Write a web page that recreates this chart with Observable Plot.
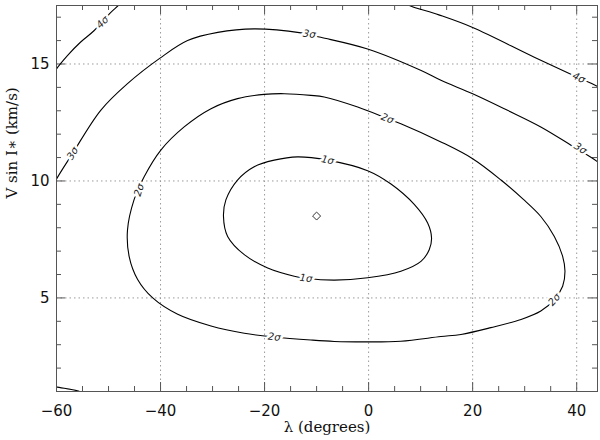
<!DOCTYPE html>
<html>
<head>
<meta charset="utf-8">
<script src="https://cdn.jsdelivr.net/npm/d3@7"></script>
<script src="https://cdn.jsdelivr.net/npm/@observablehq/plot@0.6"></script>
<style>
  html, body { margin: 0; padding: 0; background: #fff; }
  #chart { width: 600px; height: 440px; }
</style>
</head>
<body>
<div id="chart"></div>
<script>
// ---- data ----
const xDomain = [-60, 44];
const yDomain = [1, 17.5];
const xMajor = [-60, -40, -20, 0, 20, 40];
const xMinor = [-55, -50, -45, -35, -30, -25, -15, -10, -5, 5, 10, 15, 25, 30, 35];
const yMajor = [5, 10, 15];
const yMinor = [2, 3, 4, 6, 7, 8, 9, 11, 12, 13, 14, 16, 17];

const sigma1 = [[-27.9,8.48],[-27.44,9.19],[-25.2,10.04],[-22.0,10.61],[-18.15,10.89],[-13.65,11.03],[-7.9,10.89],[-0.19,10.44],[4.3,9.87],[8.77,9.0],[11.35,8.2],[12.1,7.56],[11.65,7.06],[10.06,6.56],[6.2,6.14],[-0.19,5.86],[-6.6,5.76],[-12.05,5.84],[-14.3,5.93],[-19.4,6.28],[-23.9,6.85],[-27.1,7.63]];
const sigma2 = [[-46.35,7.91],[-45.1,9.19],[-43.15,10.18],[-39.94,11.32],[-35.46,12.31],[-30.3,13.09],[-25.2,13.52],[-20.1,13.7],[-16.2,13.73],[-11.1,13.66],[-8.54,13.59],[-2.1,13.16],[3.6,12.67],[6.2,12.45],[13.9,11.67],[20.0,10.95],[25.45,10.04],[29.7,9.22],[33.1,8.48],[35.7,7.63],[37.3,6.78],[37.75,6.14],[37.3,5.5],[35.7,4.93],[33.1,4.44],[29.3,4.08],[23.5,3.73],[17.75,3.44],[13.9,3.35],[6.2,3.15],[-0.19,3.12],[-6.6,3.14],[-11.1,3.2],[-18.15,3.33],[-23.9,3.49],[-30.3,3.8],[-36.7,4.3],[-41.5,5.0],[-44.4,5.79],[-46.04,6.78]];
const sigma3 = [[-61,9.6],[-60.1,10.04],[-56.9,11.18],[-51.5,13.02],[-46.35,14.16],[-40.1,15.25],[-34.8,16.0],[-29.0,16.35],[-22.0,16.5],[-13.0,16.33],[-9.2,16.14],[-0.2,15.64],[10.1,14.72],[13.9,14.3],[20.0,13.73],[26.7,13.02],[33.1,12.31],[38.9,11.53],[44.0,10.82],[45,10.6]];
const sigma4a = [[-61,14.4],[-60.1,14.76],[-57.9,15.36],[-55.4,15.93],[-52.8,16.42],[-49.6,17.2],[-48.0,17.53],[-47.5,17.7]];
const sigma4b = [[6.5,17.7],[7.5,17.53],[13.5,17.1],[20.0,16.56],[31.85,15.29],[39.5,14.5],[44.0,14.04],[45,13.9]];
const sigma4c = [[-61,1.25],[-60.1,1.2],[-56.0,1.03],[-55,0.95]];

const labelText  = ["4σ", "4σ", "3σ", "3σ", "3σ", "2σ", "2σ", "2σ", "2σ", "1σ", "1σ"];
const labelX     = [-51.15, 40.4, -56.9, -11.4, 40.7, -44.1, 3.6, -18.15, 35.7, -7.9, -12.05];
const labelY     = [16.78, 14.41, 11.18, 16.28, 11.39, 9.61, 12.67, 3.33, 4.93, 10.89, 5.84];
const labelCurve = ["4a", "4b", "3", "3", "3", "2", "2", "2", "2", "1", "1"];

const bestFit = [{x: -10, y: 8.5}];

// ---- layout ----
const W = 600, H = 440;
const mL = 56, mR = 3, mT = 5, mB = 49;
const innerW = W - mL - mR, innerH = H - mT - mB;
const kx = innerW / (xDomain[1] - xDomain[0]);
const ky = innerH / (yDomain[1] - yDomain[0]);

const curves = {"1": sigma1, "2": sigma2, "3": sigma3, "4a": sigma4a, "4b": sigma4b};
function toRows(arr, level) { return arr.map(([x, y]) => ({x, y, level})); }
const closedRows = [...toRows(sigma1, "1"), ...toRows(sigma2, "2")];
const openRows = [...toRows(sigma3, "3"), ...toRows(sigma4a, "4a"), ...toRows(sigma4b, "4b"), ...toRows(sigma4c, "4c")];

function angleAt(x, y, key) {
  const pts = curves[key];
  let bi = 0, bd = Infinity;
  pts.forEach(([px, py], i) => {
    const d = ((px - x) * kx) ** 2 + ((py - y) * ky) ** 2;
    if (d < bd) { bd = d; bi = i; }
  });
  const n = pts.length;
  const closed = key === "1" || key === "2";
  const a = closed ? pts[(bi - 1 + n) % n] : pts[Math.max(0, bi - 1)];
  const b = closed ? pts[(bi + 1) % n] : pts[Math.min(n - 1, bi + 1)];
  let ang = Math.atan2(-(b[1] - a[1]) * ky, (b[0] - a[0]) * kx) * 180 / Math.PI;
  if (ang > 90) ang -= 180;
  if (ang < -90) ang += 180;
  return ang;
}
const labels = labelText.map((t, i) => ({
  t, x: labelX[i], y: labelY[i], r: angleAt(labelX[i], labelY[i], labelCurve[i])
}));

const tickStroke = "#555";
const chart = Plot.plot({
  width: W, height: H,
  marginLeft: mL, marginRight: mR, marginTop: mT, marginBottom: mB,
  style: {fontFamily: "DejaVu Sans", background: "#fff"},
  x: {domain: xDomain},
  y: {domain: yDomain},
  marks: [
    Plot.gridX(xMajor, {stroke: "#9a9a9a", strokeOpacity: 1, strokeDasharray: "1.5,3"}),
    Plot.gridY(yMajor, {stroke: "#9a9a9a", strokeOpacity: 1, strokeDasharray: "1.5,3"}),
    Plot.tickX(xMinor, {x: d => d, insetTop: innerH - 5, stroke: tickStroke}),
    Plot.tickX(xMinor, {x: d => d, insetBottom: innerH - 5, stroke: tickStroke}),
    Plot.tickX(xMajor, {x: d => d, insetTop: innerH - 9, stroke: tickStroke}),
    Plot.tickX(xMajor, {x: d => d, insetBottom: innerH - 9, stroke: tickStroke}),
    Plot.tickY(yMinor, {y: d => d, insetRight: innerW - 5, stroke: tickStroke}),
    Plot.tickY(yMinor, {y: d => d, insetLeft: innerW - 5, stroke: tickStroke}),
    Plot.tickY(yMajor, {y: d => d, insetRight: innerW - 9, stroke: tickStroke}),
    Plot.tickY(yMajor, {y: d => d, insetLeft: innerW - 9, stroke: tickStroke}),
    Plot.line(closedRows, {x: "x", y: "y", z: "level", curve: "catmull-rom-closed", stroke: "#000", strokeWidth: 1.1}),
    Plot.line(openRows, {x: "x", y: "y", z: "level", curve: "catmull-rom", stroke: "#000", strokeWidth: 1.1, clip: true}),
    Plot.text(labels, {x: "x", y: "y", text: "t", rotate: "r", fontSize: 10, fontStyle: "italic",
      fontFamily: "DejaVu Sans", fill: "#222", stroke: "#fff", strokeWidth: 5}),
    Plot.dot(bestFit, {x: "x", y: "y", symbol: "diamond2", r: 3.6, stroke: "#333", strokeWidth: 1, fill: "none"}),
    Plot.frame({stroke: "#555"}),
    Plot.axisX(xMajor, {tickSize: 0, tickPadding: 14, fontSize: 15, label: null, fontFamily: "DejaVu Sans", fill: "#111"}),
    Plot.axisY(yMajor, {tickSize: 0, tickPadding: 7, fontSize: 15, label: null, fontFamily: "DejaVu Sans", fill: "#111"}),
    Plot.text(["λ (degrees)"], {frameAnchor: "bottom", dy: 40, fontSize: 15, fontFamily: "DejaVu Serif", fill: "#111"}),
    Plot.text(["V sin I∗ (km/s)"], {frameAnchor: "left", dx: -44, rotate: -90, fontSize: 15, fontFamily: "DejaVu Serif", fill: "#111"})
  ]
});
document.getElementById("chart").appendChild(chart);
</script>
</body>
</html>
